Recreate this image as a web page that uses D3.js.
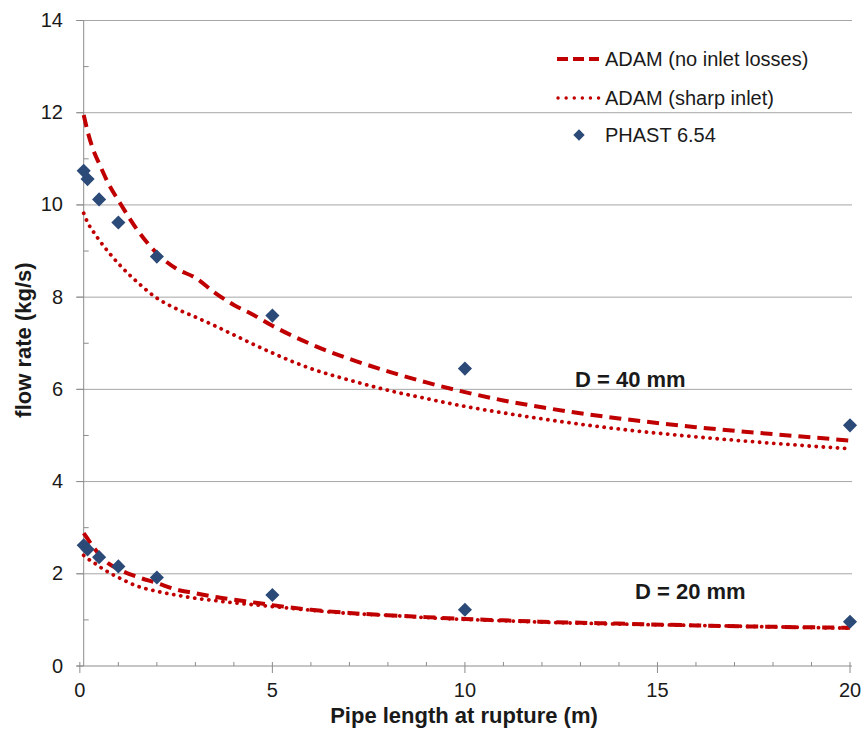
<!DOCTYPE html>
<html lang="en">
<head>
  <meta charset="UTF-8" />
  <title>Flow rate vs pipe length</title>
  <script src="https://d3js.org/d3.v7.min.js"></script>
  <style>
    body { margin: 0; background: #fff; }
    svg { display: block; font-family: "Liberation Sans", Arial, sans-serif; }
  </style>
</head>
<body>
  <svg id="chart" width="865" height="745"></svg>

  <script>
    // pipe length (m) at which the ADAM curves were sampled
    const lengths = [0.1, 0.2, 0.35, 0.5, 0.75, 1, 1.5, 2, 2.5, 3, 3.5, 4, 4.5, 5, 6, 7, 8, 9, 10, 11, 12, 14, 16, 18, 20];

    const adamNoLoss40 = [11.95, 11.6, 11.19, 10.9, 10.45, 10.1, 9.45, 8.95, 8.62, 8.42, 8.1, 7.83, 7.62, 7.38, 6.98, 6.66, 6.39, 6.15, 5.94, 5.76, 5.61, 5.37, 5.18, 5.03, 4.89];
    const adamSharp40  = [9.82, 9.62, 9.42, 9.24, 8.97, 8.73, 8.32, 7.98, 7.75, 7.57, 7.38, 7.18, 6.98, 6.79, 6.45, 6.2, 5.98, 5.8, 5.63, 5.49, 5.36, 5.14, 4.97, 4.83, 4.71];
    const adamNoLoss20 = [2.88, 2.76, 2.58, 2.42, 2.22, 2.1, 1.93, 1.8, 1.66, 1.58, 1.5, 1.44, 1.38, 1.32, 1.22, 1.15, 1.1, 1.06, 1.02, 0.99, 0.96, 0.92, 0.88, 0.85, 0.83];
    const adamSharp20  = [2.4, 2.33, 2.25, 2.16, 2.03, 1.92, 1.73, 1.62, 1.54, 1.47, 1.42, 1.37, 1.33, 1.29, 1.21, 1.14, 1.1, 1.05, 1.01, 0.98, 0.95, 0.91, 0.88, 0.85, 0.82];

    const phastLengths = [0.1, 0.2, 0.5, 1, 2, 5, 10, 20];
    const phast40 = [10.74, 10.56, 10.12, 9.62, 8.88, 7.6, 6.45, 5.22];
    const phast20 = [2.62, 2.53, 2.36, 2.16, 1.92, 1.54, 1.22, 0.96];

    const xTicks = [0, 5, 10, 15, 20];
    const yTicks = [0, 2, 4, 6, 8, 10, 12, 14];
    const legendLabels = ['ADAM (no inlet losses)', 'ADAM (sharp inlet)', 'PHAST 6.54'];

    const red = '#c00000';
    const blue = '#2b4a78';
    const gridColor = '#a6a6a6';
    const axisColor = '#8c8c8c';

    const svg = d3.select('#chart');

    const x = d3.scaleLinear().domain([-0.1, 20]).range([76, 850]);
    const y = d3.scaleLinear().domain([0, 14]).range([666, 20.5]);
    const yAxisX = x(0.1);

    // horizontal gridlines
    svg.append('g')
      .selectAll('line')
      .data(yTicks.filter(d => d > 0))
      .join('line')
      .attr('x1', x.range()[0])
      .attr('x2', x.range()[1] + 2)
      .attr('y1', d => y(d))
      .attr('y2', d => y(d))
      .attr('stroke', gridColor)
      .attr('stroke-width', 1);

    // y axis: major ticks outside, minor inside
    const yAxis = svg.append('g').attr('stroke', axisColor).attr('stroke-width', 1);
    yAxis.append('line')
      .attr('x1', yAxisX).attr('x2', yAxisX)
      .attr('y1', y(0)).attr('y2', y(14));
    yAxis.selectAll('.major')
      .data(yTicks)
      .join('line')
      .attr('class', 'major')
      .attr('x1', yAxisX - 7).attr('x2', yAxisX)
      .attr('y1', d => y(d)).attr('y2', d => y(d));
    yAxis.selectAll('.minor')
      .data(d3.range(1, 14, 2))
      .join('line')
      .attr('class', 'minor')
      .attr('x1', yAxisX).attr('x2', yAxisX + 5)
      .attr('y1', d => y(d)).attr('y2', d => y(d));

    svg.append('g')
      .selectAll('text')
      .data(yTicks)
      .join('text')
      .attr('x', 63)
      .attr('y', d => y(d) + 6.5)
      .attr('text-anchor', 'end')
      .attr('font-size', 20)
      .attr('fill', '#1a1a1a')
      .text(d => d);

    // x axis
    const xAxis = svg.append('g').attr('stroke', axisColor).attr('stroke-width', 1);
    xAxis.append('line')
      .attr('x1', x.range()[0]).attr('x2', x.range()[1] + 2)
      .attr('y1', y(0)).attr('y2', y(0));
    xAxis.selectAll('.minor')
      .data(d3.range(0, 21))
      .join('line')
      .attr('class', 'minor')
      .attr('x1', d => x(d)).attr('x2', d => x(d))
      .attr('y1', y(0) - 4).attr('y2', y(0));
    xAxis.selectAll('.major')
      .data(xTicks)
      .join('line')
      .attr('class', 'major')
      .attr('x1', d => x(d)).attr('x2', d => x(d))
      .attr('y1', y(0)).attr('y2', y(0) + 7);

    svg.append('g')
      .selectAll('text')
      .data(xTicks)
      .join('text')
      .attr('x', d => x(d))
      .attr('y', 697)
      .attr('text-anchor', 'middle')
      .attr('font-size', 20)
      .attr('fill', '#1a1a1a')
      .text(d => d);

    // axis titles
    svg.append('text')
      .attr('x', 464)
      .attr('y', 723)
      .attr('text-anchor', 'middle')
      .attr('font-size', 22)
      .attr('font-weight', 'bold')
      .attr('fill', '#1a1a1a')
      .text('Pipe length at rupture (m)');

    svg.append('text')
      .attr('transform', 'translate(31,340) rotate(-90)')
      .attr('text-anchor', 'middle')
      .attr('font-size', 22)
      .attr('font-weight', 'bold')
      .attr('fill', '#1a1a1a')
      .text('flow rate (kg/s)');

    // ADAM curves
    const line = d3.line()
      .x((d, i) => x(lengths[i]))
      .y(d => y(d))
      .curve(d3.curveMonotoneX);

    const dashed = { dash: '12,7', width: 4, cap: 'butt' };
    const dotted = { dash: '0.1,7', width: 3.8, cap: 'round' };

    [[adamSharp40, dotted], [adamSharp20, dotted], [adamNoLoss40, dashed], [adamNoLoss20, dashed]]
      .forEach(([vals, st]) => {
        svg.append('path')
          .datum(vals)
          .attr('d', line)
          .attr('fill', 'none')
          .attr('stroke', red)
          .attr('stroke-width', st.width)
          .attr('stroke-dasharray', st.dash)
          .attr('stroke-linecap', st.cap);
      });

    // PHAST points
    const diamond = d3.symbol().type(d3.symbolSquare).size(100);
    svg.append('g')
      .selectAll('path')
      .data(phastLengths.map((l, i) => [l, phast40[i]]).concat(phastLengths.map((l, i) => [l, phast20[i]])))
      .join('path')
      .attr('d', diamond)
      .attr('transform', d => `translate(${x(d[0])},${y(d[1])}) rotate(45)`)
      .attr('fill', blue);

    // annotations
    svg.append('text')
      .attr('x', 575).attr('y', 387)
      .attr('font-size', 22).attr('font-weight', 'bold').attr('fill', '#1a1a1a')
      .text('D = 40 mm');
    svg.append('text')
      .attr('x', 635).attr('y', 599)
      .attr('font-size', 22).attr('font-weight', 'bold').attr('fill', '#1a1a1a')
      .text('D = 20 mm');

    // legend
    const legend = svg.append('g');
    const rows = [59, 98, 135];
    legend.append('line')
      .attr('x1', 557).attr('x2', 599).attr('y1', rows[0]).attr('y2', rows[0])
      .attr('stroke', red).attr('stroke-width', 4).attr('stroke-dasharray', '11,5');
    legend.append('line')
      .attr('x1', 558).attr('x2', 599).attr('y1', rows[1]).attr('y2', rows[1])
      .attr('stroke', red).attr('stroke-width', 3.4).attr('stroke-dasharray', '0.1,8')
      .attr('stroke-linecap', 'round');
    legend.append('path')
      .attr('d', d3.symbol().type(d3.symbolSquare).size(64))
      .attr('transform', `translate(579,${rows[2]}) rotate(45)`)
      .attr('fill', blue);
    legend.selectAll('text')
      .data(legendLabels)
      .join('text')
      .attr('x', 605)
      .attr('y', (d, i) => rows[i] + 7)
      .attr('font-size', 20)
      .attr('fill', '#1a1a1a')
      .text(d => d);
  </script>
</body>
</html>
